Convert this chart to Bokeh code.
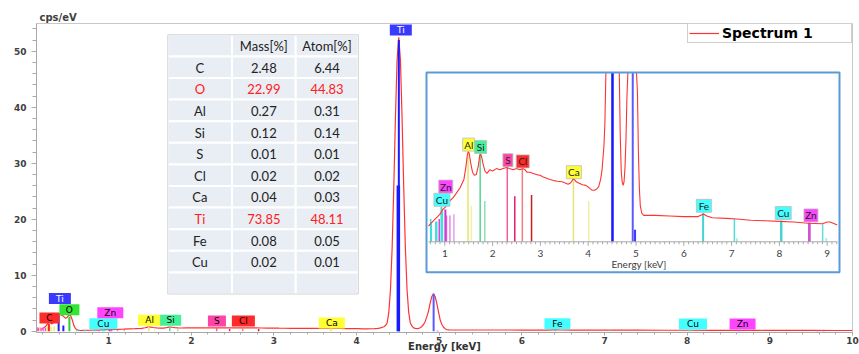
import numpy as np
from bokeh.plotting import figure
from bokeh.models import Range1d, ColumnDataSource, Legend, LegendItem, FixedTicker
from bokeh.core.properties import value
from bokeh.embed import file_html
from bokeh.resources import INLINE

# ------------------------------------------------------------------ data
# EDS spectrum, energy [keV] and intensity [cps/eV]
energy_keV = [0.125, 0.16, 0.20, 0.24, 0.27, 0.29, 0.31, 0.33, 0.36, 0.39, 0.42, 0.45,
              0.48, 0.50, 0.52, 0.54, 0.56, 0.58, 0.60, 0.63, 0.66, 0.70, 0.76, 0.85,
              0.90, 0.96, 1.04, 1.10, 1.18, 1.25, 1.32, 1.40, 1.44, 1.47, 1.49, 1.51,
              1.54, 1.58, 1.62, 1.66, 1.70, 1.73, 1.75, 1.77, 1.80, 1.84, 1.88, 1.94,
              2.00, 2.08, 2.15, 2.22, 2.29, 2.35, 2.43, 2.50, 2.57, 2.63, 2.68, 2.72,
              2.78, 2.85, 2.92, 2.99, 3.06, 3.13, 3.20, 3.28, 3.36, 3.45, 3.52, 3.58,
              3.63, 3.68, 3.71, 3.75, 3.80, 3.88, 3.95, 4.02, 4.08, 4.13, 4.18, 4.22,
              4.26, 4.29, 4.33, 4.35, 4.37, 4.39, 4.41, 4.43, 4.45, 4.47, 4.49, 4.51,
              4.53, 4.55, 4.57, 4.59, 4.61, 4.63, 4.65, 4.67, 4.69, 4.71, 4.73, 4.75,
              4.77, 4.79, 4.81, 4.83, 4.85, 4.87, 4.89, 4.91, 4.93, 4.95, 4.97, 4.99,
              5.01, 5.03, 5.05, 5.07, 5.09, 5.12, 5.16, 5.40, 5.70, 6.00, 6.30, 6.38,
              6.42, 6.48, 6.60, 6.90, 7.10, 7.40, 7.70, 8.00, 8.30, 8.60, 8.90, 9.00,
              9.06, 9.15, 9.21, 9.50, 9.80, 10.0]
intensity_cps = [0.15, 0.25, 0.45, 0.9, 1.5, 1.6, 1.3, 1.5, 2.2, 2.9, 3.0, 2.7,
                 2.3, 2.5, 2.9, 2.8, 2.0, 1.0, 0.45, 0.2, 0.13, 0.15, 0.175, 0.21,
                 0.23, 0.27, 0.30, 0.34, 0.37, 0.41, 0.45, 0.52, 0.62, 0.72, 0.75, 0.74,
                 0.66, 0.58, 0.555, 0.56, 0.63, 0.72, 0.73, 0.71, 0.65, 0.59, 0.57, 0.60,
                 0.59, 0.61, 0.60, 0.61, 0.62, 0.61, 0.60, 0.61, 0.60, 0.61, 0.60, 0.58,
                 0.58, 0.57, 0.56, 0.555, 0.54, 0.53, 0.52, 0.51, 0.505, 0.50, 0.49, 0.48,
                 0.49, 0.52, 0.52, 0.50, 0.49, 0.475, 0.47, 0.45, 0.43, 0.43, 0.44, 0.46,
                 0.52, 0.60, 0.80, 1.0, 1.5, 3.4, 7.5, 14.9, 25.8, 38.2, 48.5, 52.5,
                 48.5, 38.2, 25.8, 14.9, 7.5, 3.4, 1.5, 0.9, 0.6, 0.5, 0.47, 0.5,
                 0.62, 0.85, 1.2, 1.75, 2.6, 3.6, 5.0, 6.2, 6.7, 6.2, 5.0, 3.5,
                 2.1, 1.25, 0.75, 0.45, 0.3, 0.24, 0.22, 0.22, 0.215, 0.21, 0.21, 0.225,
                 0.23, 0.215, 0.20, 0.195, 0.19, 0.18, 0.175, 0.17, 0.165, 0.155, 0.15, 0.165,
                 0.165, 0.15, 0.14, 0.135, 0.13, 0.13]

# characteristic X-ray line markers: energy [keV], height [cps/eV]
marker_keV = [0.135, 0.150, 0.167, 0.183, 0.208, 0.235, 0.256, 0.277, 0.304, 0.341,
              0.395, 0.452, 0.525, 0.615, 0.640, 0.705, 0.718, 0.811, 0.832, 0.884,
              0.930, 0.950, 1.012, 1.034, 1.107, 1.190, 1.486, 1.557, 1.740, 1.836,
              2.307, 2.464, 2.622, 2.815, 3.691, 4.012, 4.505, 4.511, 4.932, 4.980,
              6.404, 7.058, 7.110, 8.028, 8.048, 8.616, 8.638, 8.905, 8.980, 9.572, 9.650]
marker_cps = [0.7, 0.6, 0.8, 0.6, 0.7, 0.6, 0.8, 1.3, 0.8, 0.9,
              3.2, 1.0, 2.6, 0.25, 0.12, 0.19, 0.15, 0.17, 0.17, 0.19,
              0.29, 0.25, 0.27, 0.22, 0.22, 0.23, 0.76, 0.30, 0.73, 0.34,
              0.63, 0.38, 0.61, 0.39, 0.53, 0.34, 26.0, 52.0, 6.7, 0.10,
              0.24, 0.19, 0.03, 0.175, 0.175, 0.16, 0.16, 0.147, 0.03, 0.13, 0.05]
marker_color = ["#ff66cc", "#ff44ff", "#eeee66", "#ff66cc", "#ff66cc", "#ee55ee", "#eeee66",
                "#ff2222", "#eeee66", "#eeee66", "#2222ee", "#2222ee", "#33cc33", "#44dddd",
                "#44dddd", "#44dddd", "#44dddd", "#44dddd", "#44dddd", "#dd44dd", "#44dddd",
                "#44dddd", "#cc33cc", "#dd55dd", "#e08ae0", "#e0a0f0", "#e6e66a", "#f0f0a8",
                "#55d494", "#8fe0b4", "#f0609f", "#e0206e", "#ee8080", "#c81e1e", "#e8e27a",
                "#f0eea8", "#1a1aff", "#1a1aff", "#5a5aff", "#3a3aff", "#44d4d4", "#55dddd",
                "#88eeee", "#44d4d4", "#44d4d4", "#cc44cc", "#cc44cc", "#66dddd", "#88eeee",
                "#dd44dd", "#dd44dd"]
marker_width = [1.5, 1.5, 1.5, 1.5, 1.5, 1.5, 1.5, 2, 1.5, 1.5,
                2, 2, 2, 1.5, 1.5, 1.5, 1.5, 1.5, 1.5, 1.5,
                2, 1.5, 2, 1.5, 1.5, 1.5, 1.5, 1.5, 1.5, 1.5,
                1.5, 1.5, 1.5, 1.5, 1.5, 1.5, 3.5, 2, 2, 2,
                2, 1.5, 1.5, 1.5, 1.5, 1.5, 1.5, 1.5, 1.5, 2, 2]

# element labels on the main spectrum
main_label_text = ["C", "Ti", "O", "Cu", "Zn", "Al", "Si", "S", "Cl", "Ca", "Ti", "Fe", "Cu", "Zn"]
main_label_keV = [0.284, 0.41, 0.525, 0.936, 1.02, 1.495, 1.75, 2.31, 2.63, 3.70, 4.535, 6.43, 8.07, 8.67]
main_label_cps = [2.36, 5.84, 3.84, 1.34, 3.30, 1.95, 1.95, 1.82, 1.82, 1.46, 53.8, 1.34, 1.29, 1.29]

# element labels in the zoomed inset
inset_label_text = ["Cu", "Zn", "Al", "Si", "S", "Cl", "Ca", "Fe", "Cu", "Zn"]
inset_label_keV = [0.94, 1.02, 1.50, 1.75, 2.32, 2.63, 3.70, 6.42, 8.08, 8.66]
inset_label_cps = [0.35, 0.46, 0.81, 0.79, 0.68, 0.67, 0.58, 0.30, 0.24, 0.22]

x_tick_values = [1, 2, 3, 4, 5, 6, 7, 8, 9, 10]
y_tick_values = [0, 10, 20, 30, 40, 50]
inset_tick_values = [1, 2, 3, 4, 5, 6, 7, 8, 9]
inset_tick_labels = ["1", "2", "3", "4", "5", "6", "7", "8", "9"]

# quantification table
table_header = ["", "Mass[%]", "Atom[%]"]
table_element = ["C", "O", "Al", "Si", "S", "Cl", "Ca", "Ti", "Fe", "Cu"]
table_mass = ["2.48", "22.99", "0.27", "0.12", "0.01", "0.02", "0.04", "73.85", "0.08", "0.02"]
table_atom = ["6.44", "44.83", "0.31", "0.14", "0.01", "0.02", "0.03", "48.11", "0.05", "0.01"]
table_red_rows = ["O", "Ti"]

# ------------------------------------------------------------------ styles
LABEL_FILL = {"C": "#ff2a2a", "Ti": "#3a3aff", "O": "#33e633", "Zn": "#ff44ff", "Cu": "#44ffff",
              "Al": "#ffff33", "Si": "#44f099", "S": "#ff44a8", "Cl": "#ff2a2a", "Ca": "#ffff33",
              "Fe": "#44ffff"}
MAIN_LABEL_W = {"C": 20, "Ti": 22, "O": 20, "Zn": 26, "Cu": 28, "Al": 23, "Si": 21, "S": 18,
                "Cl": 23, "Ca": 26, "Fe": 26}
INSET_LABEL_W = {"Al": 12, "Si": 12, "S": 10, "Cl": 13, "Ca": 15, "Zn": 14, "Cu": 16, "Fe": 15}
RED = "#ff3333"
AX = "#a8a8a8"
TXT = "#404040"

# reference-pixel geometry of the frame (left, top, right, bottom)
RL, RT, RR, RB = 36.0, 23.0, 852.0, 332.0
def fx(X):
    return X - RL
def fy(Y):
    return RB - Y

# inset geometry (reference pixels)
IB_L, IB_T, IB_R, IB_B = 426.0, 72.0, 839.0, 271.7
IN_X0, IN_XS = 396.5, 47.8      # pixel of 0 keV, pixels per keV
IN_Y0, IN_YS = 241.3, 120.0     # pixel of 0 cps/eV, pixels per cps/eV
IN_KMIN = (428.0 - IN_X0) / IN_XS
IN_KMAX = (837.0 - IN_X0) / IN_XS
IN_TOP = (IN_Y0 - IB_T) / IN_YS

p = figure(width=859, height=354, output_backend="svg", toolbar_location=None,
           x_range=Range1d(0.127, 10.0), y_range=Range1d(-0.23, 54.95),
           min_border_left=36, min_border_right=7, min_border_top=23, min_border_bottom=22,
           title="cps/eV")
p.extra_x_ranges = {"px": Range1d(0, RR - RL),
                    "ix": Range1d((RL - IN_X0) / IN_XS, (RR - IN_X0) / IN_XS)}
p.extra_y_ranges = {"py": Range1d(0, RB - RT),
                    "iy": Range1d((IN_Y0 - RB) / IN_YS, (IN_Y0 - RT) / IN_YS)}

p.title.text_font = "DejaVu Sans"
p.title.text_font_size = "10px"
p.title.text_font_style = "bold"
p.title.text_color = TXT
p.title.align = "left"
p.title.offset = 3
p.title.standoff = 1

p.background_fill_color = "white"
p.border_fill_color = "white"
p.outline_line_color = "#c8c8c8"
p.xgrid.visible = False
p.ygrid.visible = False

p.xaxis.ticker = FixedTicker(ticks=x_tick_values,
                             minor_ticks=[k / 5 for k in range(1, 50) if k % 5])
p.yaxis.ticker = FixedTicker(ticks=y_tick_values,
                             minor_ticks=[k for k in range(2, 56, 2) if k % 10])
for ax in (p.xaxis[0], p.yaxis[0]):
    ax.axis_line_color = AX
    ax.major_tick_line_color = AX
    ax.minor_tick_line_color = AX
    ax.major_label_text_font = "DejaVu Sans"
    ax.major_label_text_font_style = "bold"
    ax.major_label_text_font_size = "9px"
    ax.major_label_text_color = TXT
p.xaxis.major_tick_in = 0
p.xaxis.major_tick_out = 3
p.xaxis.minor_tick_in = 0
p.xaxis.minor_tick_out = 2
p.xaxis.major_label_standoff = 1
p.xaxis.axis_label = "Energy [keV]"
p.xaxis.axis_label_text_font = "DejaVu Sans"
p.xaxis.axis_label_text_font_style = "bold"
p.xaxis.axis_label_text_font_size = "10px"
p.xaxis.axis_label_text_color = "#333333"
p.xaxis.axis_label_standoff = -6
p.yaxis.major_tick_in = 0
p.yaxis.major_tick_out = 5
p.yaxis.minor_tick_in = 0
p.yaxis.minor_tick_out = 4
p.yaxis.major_label_standoff = 5

# ------------------------------------------------------------------ main spectrum
spec = ColumnDataSource(dict(x=energy_keV, y=intensity_cps))
r_spec = p.line("x", "y", source=spec, line_color=RED, line_width=1.2)

p.segment(x0=marker_keV, y0=[0] * len(marker_keV), x1=marker_keV, y1=marker_cps,
          line_color=marker_color, line_width=marker_width)

p.rect(x=main_label_keV, y=main_label_cps,
       width=[MAIN_LABEL_W[t] for t in main_label_text], height=11,
       width_units="screen", height_units="screen",
       fill_color=[LABEL_FILL[t] for t in main_label_text], line_color=None)
p.text(x=main_label_keV, y=main_label_cps, text=main_label_text,
       text_align="center", text_baseline="middle",
       text_font=value("DejaVu Sans"), text_font_size="9px",
       text_color=["white" if t == "Ti" else "black" for t in main_label_text])

# ------------------------------------------------------------------ table
col_edges = [167.3, 231.5, 295.2, 357.8]
tab_top, row_h = 34.3, 21.6
rows = [table_header] + [[e, m, a] for e, m, a in zip(table_element, table_mass, table_atom)] + [["", "", ""]]
cx, cy, cw, ch, ct, cc = [], [], [], [], [], []
for i, row in enumerate(rows):
    yc = fy(tab_top + (i + 0.5) * row_h)
    red = i > 0 and row[0] in table_red_rows
    for j in range(3):
        cx.append(fx((col_edges[j] + col_edges[j + 1]) / 2))
        cy.append(yc)
        cw.append(col_edges[j + 1] - col_edges[j])
        ch.append(row_h)
        ct.append(row[j])
        cc.append("#ff2020" if red else "#222222")
p.rect(x=cx, y=cy, width=cw, height=ch, x_range_name="px", y_range_name="py",
       fill_color="#e9edf4", line_color="white", line_width=2)
p.quad(left=fx(col_edges[0]), right=fx(col_edges[-1]), top=fy(tab_top),
       bottom=fy(tab_top + len(rows) * row_h), x_range_name="px", y_range_name="py",
       fill_color=None, line_color="#d0d0d0", line_width=1)
p.text(x=cx, y=[v - 0.5 for v in cy], text=ct, x_range_name="px", y_range_name="py",
       text_align="center", text_baseline="middle", text_font=value("Lato"),
       text_font_size="13px", text_color=cc)

# ------------------------------------------------------------------ inset
p.quad(left=fx(IB_L), right=fx(IB_R), top=fy(IB_T), bottom=fy(IB_B),
       x_range_name="px", y_range_name="py", fill_color="white", line_color=None)

isel = [i for i, e in enumerate(marker_keV) if IN_KMIN <= e <= IN_KMAX]
p.segment(x0=[marker_keV[i] for i in isel], y0=[0] * len(isel),
          x1=[marker_keV[i] for i in isel], y1=[min(marker_cps[i], IN_TOP) for i in isel],
          line_color=[marker_color[i] for i in isel],
          line_width=[min(marker_width[i], 2) for i in isel],
          x_range_name="ix", y_range_name="iy")

e_arr = np.array(energy_keV)
c_arr = np.array(intensity_cps)
msk = (e_arr >= IN_KMIN) & (e_arr <= IN_KMAX)
p.line(e_arr[msk], np.minimum(c_arr[msk], IN_TOP), line_color=RED, line_width=1.1,
       x_range_name="ix", y_range_name="iy")

# inset axis
p.segment(x0=[IN_KMIN], y0=[0], x1=[IN_KMAX], y1=[0], line_color=AX, line_width=1,
          x_range_name="ix", y_range_name="iy")
minor = [k / 10 for k in range(7, 93) if k % 10]
p.segment(x0=minor, y0=[0] * len(minor), x1=minor, y1=[-2.5 / IN_YS] * len(minor),
          line_color=AX, line_width=1, x_range_name="ix", y_range_name="iy")
p.segment(x0=inset_tick_values, y0=[0] * 9, x1=inset_tick_values, y1=[-4 / IN_YS] * 9,
          line_color=AX, line_width=1, x_range_name="ix", y_range_name="iy")
p.text(x=inset_tick_values, y=[(IN_Y0 - 253.0) / IN_YS] * 9, text=inset_tick_labels,
       x_range_name="ix", y_range_name="iy", text_align="center", text_baseline="middle",
       text_font=value("Lato"), text_font_size="10px", text_color=TXT)
p.text(x=[fx(638.5)], y=[fy(263.0)], text=["Energy [keV]"], x_range_name="px", y_range_name="py",
       text_align="center", text_baseline="middle", text_font=value("Lato"),
       text_font_size="10px", text_color=TXT)

# inset labels
p.rect(x=inset_label_keV, y=inset_label_cps,
       width=[INSET_LABEL_W[t] for t in inset_label_text], height=13,
       width_units="screen", height_units="screen",
       fill_color=[LABEL_FILL[t] for t in inset_label_text], line_color="#bdbdbd",
       line_width=0.8, x_range_name="ix", y_range_name="iy")
p.text(x=inset_label_keV, y=inset_label_cps, text=inset_label_text,
       x_range_name="ix", y_range_name="iy", text_align="center", text_baseline="middle",
       text_font=value("Lato"), text_font_size="10px", text_color="#222222")

# inset border
p.quad(left=fx(IB_L), right=fx(IB_R), top=fy(IB_T), bottom=fy(IB_B),
       x_range_name="px", y_range_name="py", fill_color=None, line_color="#5b9bd5",
       line_width=2)

# ------------------------------------------------------------------ legend
legend = Legend(items=[LegendItem(label="Spectrum 1", renderers=[r_spec])],
                location="top_right", margin=0, padding=1, spacing=0,
                glyph_width=30, glyph_height=14, label_standoff=3,
                label_width=128, label_height=14,
                label_text_font="DejaVu Sans", label_text_font_style="bold",
                label_text_font_size="14px", label_text_color="black",
                border_line_color="#a0a0a0", border_line_width=1,
                background_fill_color="white", background_fill_alpha=1.0)
p.add_layout(legend)

open("out.html", "w").write(file_html(p, INLINE))
